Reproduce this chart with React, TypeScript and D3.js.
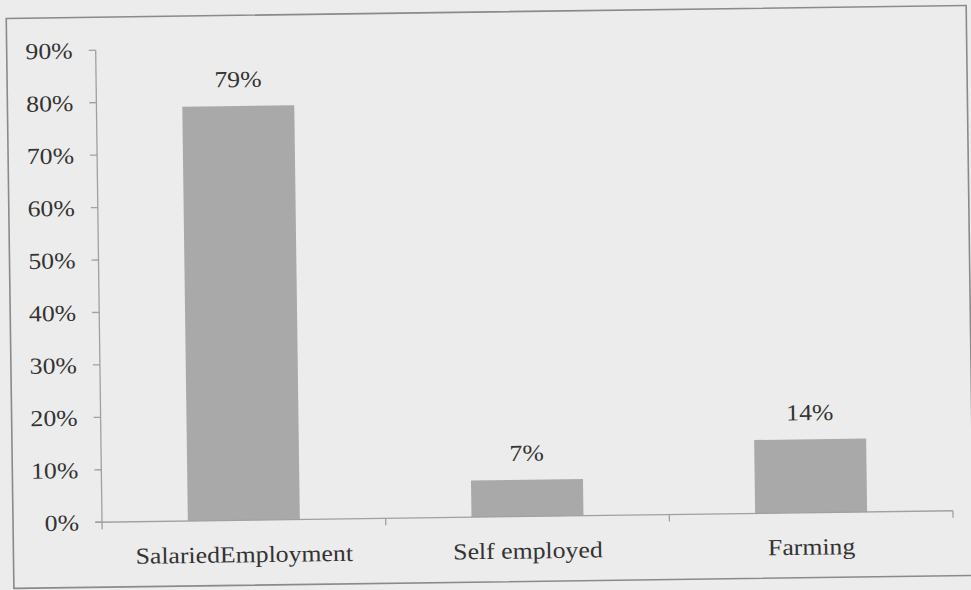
import React from "react";
import * as d3 from "d3";

const categories = ["SalariedEmployment", "Self employed", "Farming"];
const values = [79, 7, 14];
const valueLabels = ["79%", "7%", "14%"];
const yTicks = [0, 10, 20, 30, 40, 50, 60, 70, 80, 90];

const W = 971;
const H = 590;
const FONT = "'Liberation Serif', 'Times New Roman', serif";
const TEXT = "#333333";

export default function App() {
  const y = d3.scaleLinear().domain([0, 90]).range([517, 45]);
  const band = d3.scaleBand<string>().domain(categories).range([99, 950]);
  const sx = 1.12;
  return (
    <svg width={W} height={H} style={{ position: "absolute", left: 0, top: 0 }}>
      <rect x={0} y={0} width={W} height={H} fill="#ececec" />
      <g transform={`rotate(-0.77 ${W / 2} ${H / 2})`}>
        <rect x={10} y={12} width={960} height={570} fill="none" stroke="#8a8a8a" strokeWidth={1.6} />
        {/* y axis */}
        <line x1={99} x2={99} y1={y(90)} y2={y(0)} stroke="#a0a0a0" strokeWidth={1.3} />
        {yTicks.map((t) => (
          <g key={t}>
            <line x1={92} x2={99} y1={y(t)} y2={y(t)} stroke="#a0a0a0" strokeWidth={1.3} />
            <text
              transform={`translate(76 ${y(t)}) scale(${sx} 1)`}
              dy="0.35em"
              textAnchor="end"
              fontFamily={FONT}
              fontSize={23}
              fill={TEXT}
            >
              {t}%
            </text>
          </g>
        ))}
        {/* bars */}
        {categories.map((c, i) => (
          <rect
            key={c}
            x={(band(c) as number) + band.bandwidth() / 2 - 56}
            y={y(values[i])}
            width={112}
            height={y(0) - y(values[i])}
            fill="#a9a9a9"
          />
        ))}
        {/* x axis */}
        <line x1={93} x2={950} y1={y(0)} y2={y(0)} stroke="#a0a0a0" strokeWidth={1.3} />
        {[...categories.map((c) => band(c) as number), 950].map((t, i) => (
          <line key={i} x1={t} x2={t} y1={y(0)} y2={y(0) + 7} stroke="#a0a0a0" strokeWidth={1.3} />
        ))}
        {categories.map((c, i) => {
          const cx = (band(c) as number) + band.bandwidth() / 2;
          return (
            <g key={c}>
              <text
                transform={`translate(${cx} ${y(values[i]) - 19}) scale(${sx} 1)`}
                textAnchor="middle"
                fontFamily={FONT}
                fontSize={23}
                fill={TEXT}
              >
                {valueLabels[i]}
              </text>
              <text
                transform={`translate(${cx} 559) scale(${sx} 1)`}
                textAnchor="middle"
                fontFamily={FONT}
                fontSize={23}
                fill={TEXT}
              >
                {c}
              </text>
            </g>
          );
        })}
      </g>
    </svg>
  );
}
